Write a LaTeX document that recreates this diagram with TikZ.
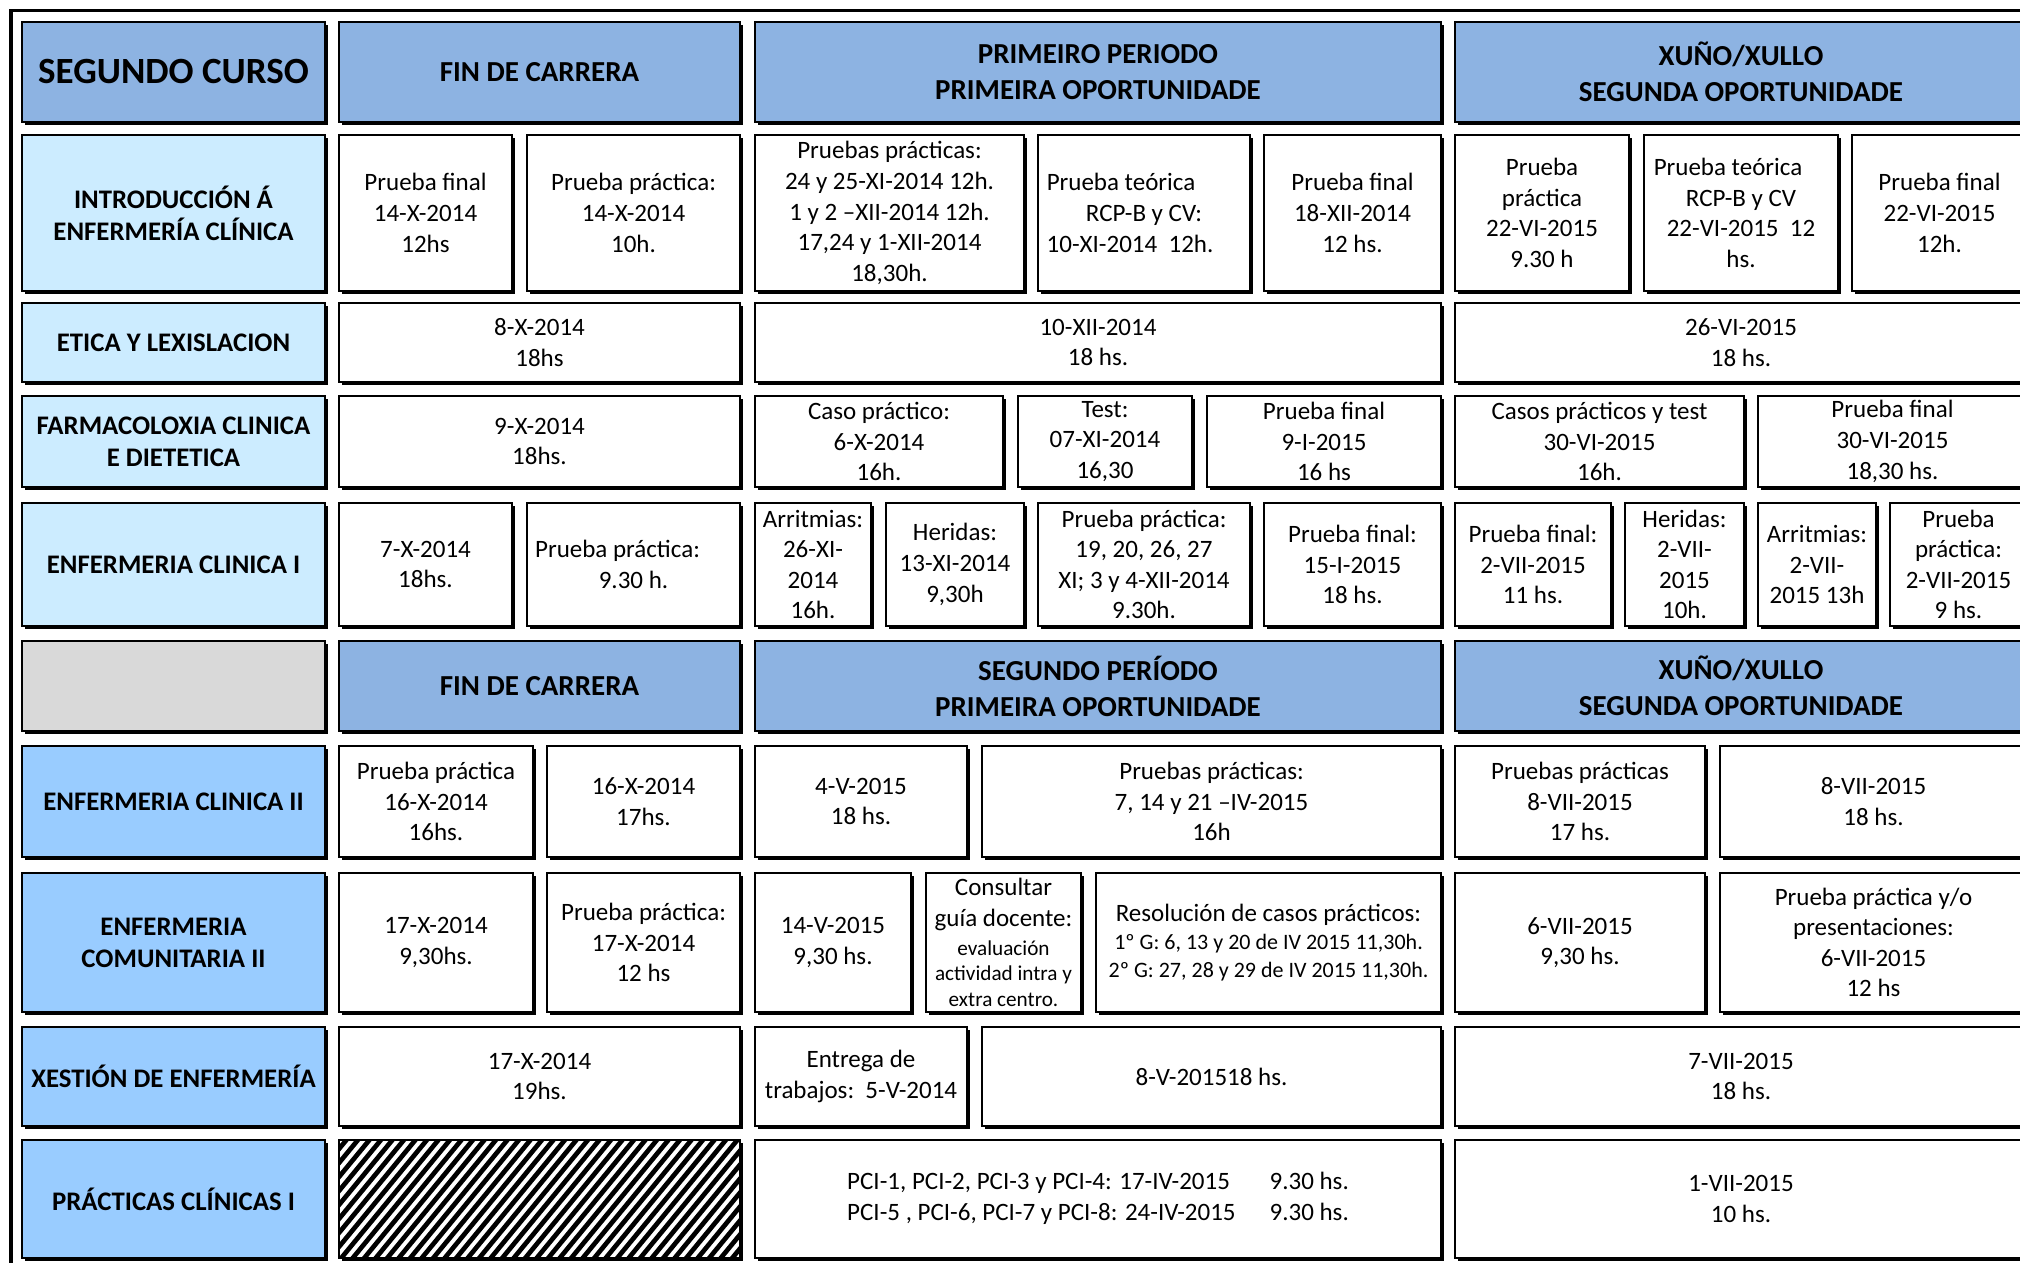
\documentclass[tikz,border=0pt]{standalone}
\usepackage{fontspec}
\setmainfont{Carlito}
\usetikzlibrary{shadows}
\definecolor{hdr}{HTML}{8DB3E2}
\definecolor{lab}{HTML}{CCECFF}
\definecolor{labb}{HTML}{99CCFF}
\definecolor{grayc}{HTML}{D9D9D9}
\newcommand\bodyf{\fontsize{12.5}{15.3}\selectfont}
\newcommand\hdrf{\fontsize{14.5}{18}\selectfont\bfseries}
\newcommand\bigf{\fontsize{18.5}{22}\selectfont\bfseries}
\newcommand\labf{\fontsize{13.4}{16}\selectfont\bfseries}
\newcommand\smf{\fontsize{10.6}{12.9}\selectfont}
\newcommand\resf{\fontsize{11}{13.9}\selectfont}
\newcommand\mkcell[7]{%
  \pgfmathsetmacro\cellw{(#4-#2-4)*0.5}%
  \pgfmathsetmacro\cellh{(#5-#3-4)*0.5}%
  \node[cellbox,#6,minimum width=\cellw pt,minimum height=\cellh pt] (#1) at ({(#2+#4)/2-1},{(#3+#5)/2-1}) {#7};%
}
\tikzset{
  cellbox/.style={draw=black, line width=1pt, inner sep=0pt, outer sep=0pt, align=center,
    font=\bodyf, fill=white,
    drop shadow={shadow xshift=1.5pt, shadow yshift=-1.5pt, fill=black, opacity=1}},
  hdrbox/.style={fill=hdr, font=\hdrf},
  labbox/.style={fill=lab, font=\labf},
  labbbox/.style={fill=labb, font=\labf},
  graybox/.style={fill=grayc},
  stripe/.style={line width=2.35pt, black},
}
\begin{document}
\begin{tikzpicture}[x=0.5pt, y=-0.5pt]
\useasboundingbox (0,0) rectangle (2020,1263);
\clip (0,0) rectangle (2020,1263);
\fill[white] (0,0) rectangle (2020,1263);
\draw[line width=1.65pt] (11,10.7) rectangle (2080,1320);

% Row 0 : headers
\mkcell{h0}{21}{21}{328}{125}{hdrbox,font=\bigf}{SEGUNDO CURSO}
\mkcell{h1}{338}{21}{743}{125}{hdrbox}{FIN DE CARRERA}
\mkcell{h2}{754}{21}{1444}{125}{hdrbox}{PRIMEIRO PERIODO\\PRIMEIRA OPORTUNIDADE}
\mkcell{h3}{1454}{21}{2030}{125}{hdrbox}{XUÑO/XULLO\\SEGUNDA OPORTUNIDADE}

% Row 1
\mkcell{a1}{21}{134}{328}{294}{labbox}{INTRODUCCIÓN Á\\ENFERMERÍA CLÍNICA}
\mkcell{b1a}{338}{134}{515}{294}{}{Prueba final\\14-X-2014\\12hs}
\mkcell{b1b}{526}{134}{743}{294}{}{Prueba práctica:\\14-X-2014\\10h.}
\mkcell{c1a}{754}{134}{1027}{294}{}{Pruebas prácticas:\\24 y 25-XI-2014 12h.\\1 y 2 –XII-2014 12h.\\17,24 y 1-XII-2014\\18,30h.}
\mkcell{c1b}{1037}{134}{1253}{294}{}{Prueba teórica\hspace*{23pt}\\RCP-B y CV:\hspace*{14pt}\\10-XI-2014~~12h.\hspace*{14pt}}
\mkcell{c1c}{1263}{134}{1444}{294}{}{Prueba final\\18-XII-2014\\12 hs.}
\mkcell{d1a}{1454}{134}{1632}{294}{}{Prueba\\práctica\\22-VI-2015\\9.30 h}
\mkcell{d1b}{1643}{134}{1841}{294}{}{Prueba teórica\hspace*{13pt}\\RCP-B y CV\\22-VI-2015~~12\\hs.}
\mkcell{d1c}{1851}{134}{2030}{294}{}{Prueba final\\22-VI-2015\\12h.}

% Row 2
\mkcell{a2}{21}{302}{328}{385}{labbox}{ETICA Y LEXISLACION}
\mkcell{b2}{338}{302}{743}{385}{}{8-X-2014\\18hs}
\mkcell{c2}{754}{302}{1444}{385}{}{10-XII-2014\\18 hs.}
\mkcell{d2}{1454}{302}{2030}{385}{}{26-VI-2015\\18 hs.}

% Row 3
\mkcell{a3}{21}{395}{328}{490}{labbox}{FARMACOLOXIA CLINICA\\E DIETETICA}
\mkcell{b3}{338}{395}{743}{490}{}{9-X-2014\\18hs.}
\mkcell{c3a}{754}{395}{1006}{490}{}{Caso práctico:\\6-X-2014\\16h.}
\mkcell{c3b}{1017}{395}{1195}{490}{}{Test:\\07-XI-2014\\16,30}
\mkcell{c3c}{1206}{395}{1444}{490}{}{Prueba final\\9-I-2015\\16 hs}
\mkcell{d3a}{1454}{395}{1747}{490}{}{Casos prácticos y test\\30-VI-2015\\16h.}
\mkcell{d3b}{1757}{395}{2030}{490}{}{Prueba final\\30-VI-2015\\18,30 hs.}

% Row 4
\mkcell{a4}{21}{502}{328}{629}{labbox}{ENFERMERIA CLINICA I}
\mkcell{b4a}{338}{502}{515}{629}{}{7-X-2014\\18hs.}
\mkcell{b4b}{526}{502}{743}{629}{}{Prueba práctica:\hspace*{16pt}\\9.30 h.}
\mkcell{c4a}{754}{502}{874}{629}{}{Arritmias:\\26-XI-\\2014\\16h.}
\mkcell{c4b}{885}{502}{1027}{629}{}{Heridas:\\13-XI-2014\\9,30h}
\mkcell{c4c}{1037}{502}{1253}{629}{}{Prueba práctica:\\19, 20, 26, 27\\XI; 3 y 4-XII-2014\\9.30h.}
\mkcell{c4d}{1263}{502}{1444}{629}{}{Prueba final:\\15-I-2015\\18 hs.}
\mkcell{d4a}{1454}{502}{1614}{629}{}{Prueba final:\\2-VII-2015\\11 hs.}
\mkcell{d4b}{1624}{502}{1747}{629}{}{Heridas:\\2-VII-\\2015\\10h.}
\mkcell{d4c}{1757}{502}{1879}{629}{}{Arritmias:\\2-VII-\\2015 13h}
\mkcell{d4d}{1889}{502}{2030}{629}{}{Prueba\\práctica:\\2-VII-2015\\9 hs.}

% Row 5 : second headers
\mkcell{a5}{21}{640}{328}{734}{graybox}{}
\mkcell{h5b}{338}{640}{743}{734}{hdrbox}{FIN DE CARRERA}
\mkcell{h5c}{754}{640}{1444}{734}{hdrbox}{SEGUNDO PERÍODO\\PRIMEIRA OPORTUNIDADE}
\mkcell{h5d}{1454}{640}{2030}{734}{hdrbox}{XUÑO/XULLO\\SEGUNDA OPORTUNIDADE}

% Row 6
\mkcell{a6}{21}{745}{328}{860}{labbbox}{ENFERMERIA CLINICA II}
\mkcell{b6a}{338}{745}{536}{860}{}{Prueba práctica\\16-X-2014\\16hs.}
\mkcell{b6b}{546}{745}{743}{860}{}{16-X-2014\\17hs.}
\mkcell{c6a}{754}{745}{970}{860}{}{4-V-2015\\18 hs.}
\mkcell{c6b}{981}{745}{1444}{860}{}{Pruebas prácticas:\\7, 14 y 21 –IV-2015\\16h}
\mkcell{d6a}{1454}{745}{1708}{860}{}{Pruebas prácticas\\8-VII-2015\\17 hs.}
\mkcell{d6b}{1719}{745}{2030}{860}{}{8-VII-2015\\18 hs.}

% Row 7
\mkcell{a7}{21}{872}{328}{1015}{labbbox}{ENFERMERIA\\COMUNITARIA II}
\mkcell{b7a}{338}{872}{536}{1015}{}{17-X-2014\\9,30hs.}
\mkcell{b7b}{546}{872}{743}{1015}{}{Prueba práctica:\\17-X-2014\\12 hs}
\mkcell{c7a}{754}{872}{914}{1015}{}{14-V-2015\\9,30 hs.}
\mkcell{c7b}{925}{872}{1084}{1015}{font=\smf}{{\bodyf Consultar}\\[2.6pt]{\bodyf guía docente:}\\[1.3pt]evaluación\\actividad intra y\\extra centro.}
\mkcell{c7c}{1095}{872}{1444}{1015}{font=\resf}{{\bodyf Resolución de casos prácticos:}\\[0.5pt]1º G: 6, 13 y 20 de IV 2015 11,30h.\\2º G: 27, 28 y 29 de IV 2015 11,30h.}
\mkcell{d7a}{1454}{872}{1708}{1015}{}{6-VII-2015\\9,30 hs.}
\mkcell{d7b}{1719}{872}{2030}{1015}{}{Prueba práctica y/o\\presentaciones:\\6-VII-2015\\12 hs}

% Row 8
\mkcell{a8}{21}{1026}{328}{1129}{labbbox}{XESTIÓN DE ENFERMERÍA}
\mkcell{b8}{338}{1026}{743}{1129}{}{17-X-2014\\19hs.}
\mkcell{c8a}{754}{1026}{970}{1129}{}{Entrega de\\trabajos:~~5-V-2014}
\mkcell{c8b}{981}{1026}{1444}{1129}{}{8-V-201518 hs.}
\mkcell{d8}{1454}{1026}{2030}{1129}{}{7-VII-2015\\18 hs.}

% Row 9
\mkcell{a9}{21}{1139}{328}{1261}{labbbox}{PRÁCTICAS CLÍNICAS I}
\mkcell{b9}{338}{1139}{743}{1261}{}{}
\begin{scope}
  \clip (b9.north west) rectangle (b9.south east);
  \foreach \k in {-12,...,40} {
    \draw[stripe] ({338+\k*11.5},1262) -- ({338+\k*11.5+102},1138);
  }
\end{scope}
\draw[line width=1pt] (b9.north west) rectangle (b9.south east);
\mkcell{c9}{754}{1139}{1444}{1261}{}{\begin{tabular}{@{}l@{\hspace{17pt}}l@{}}PCI-1, PCI-2, PCI-3 y PCI-4: 17-IV-2015 & 9.30 hs.\\PCI-5 , PCI-6, PCI-7 y PCI-8: 24-IV-2015 & 9.30 hs.\end{tabular}}
\mkcell{d9}{1454}{1139}{2030}{1261}{}{1-VII-2015\\10 hs.}
\end{tikzpicture}
\end{document}
